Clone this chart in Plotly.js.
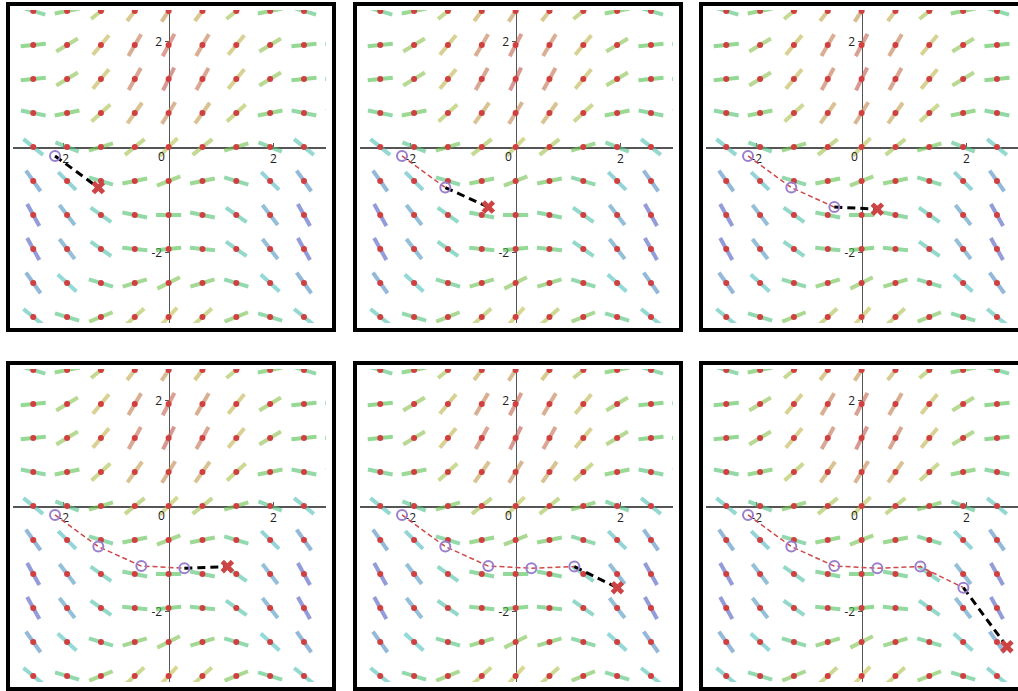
<!DOCTYPE html>
<html>
<head>
<meta charset="utf-8">
<script src="https://cdn.plot.ly/plotly-3.0.1.min.js"></script>
<style>
html, body { margin: 0; padding: 0; overflow: hidden; background: #fff; width: 1018px; height: 691px; }
.panel { position: absolute; width: 322px; height: 322px; border: 4px solid #000; background: #fff; }
</style>
</head>
<body>
<div id="p0" class="panel"></div>
<div id="p1" class="panel"></div>
<div id="p2" class="panel"></div>
<div id="p3" class="panel"></div>
<div id="p4" class="panel"></div>
<div id="p5" class="panel"></div>
<script>
// Grid of the slope field (x columns, y rows)
const GRID_X = [-3.225, -2.58, -1.935, -1.29, -0.645, 0, 0.645, 1.29, 1.935, 2.58, 3.225];
const GRID_Y = [2.58, 1.935, 1.29, 0.645, 0, -0.645, -1.29, -1.935, -2.58, -3.225];
// Slopes read from the segments, one row per GRID_Y value
const SLOPE_ROW_0 = [-0.5, -0.3, 0.2, 0.8, 1.3, 1.5, 1.3, 0.8, 0.2, -0.3, -0.5];
const SLOPE_ROW_1 = [-0.1, 0.1, 0.6, 1.2, 1.7, 1.9, 1.7, 1.2, 0.6, 0.1, -0.1];
const SLOPE_ROW_2 = [0.0, 0.1, 0.6, 1.2, 1.8, 2.0, 1.8, 1.2, 0.6, 0.1, 0.0];
const SLOPE_ROW_3 = [-0.4, -0.2, 0.2, 0.9, 1.4, 1.6, 1.4, 0.9, 0.2, -0.2, -0.4];
const SLOPE_ROW_4 = [-1.0, -0.8, -0.4, 0.3, 0.8, 1.0, 0.8, 0.3, -0.4, -0.8, -1.0];
const SLOPE_ROW_5 = [-1.6, -1.4, -1.0, -0.3, 0.2, 0.4, 0.2, -0.3, -1.0, -1.4, -1.6];
const SLOPE_ROW_6 = [-2.0, -1.8, -1.3, -0.7, -0.2, 0.0, -0.2, -0.7, -1.3, -1.8, -2.0];
const SLOPE_ROW_7 = [-1.9, -1.8, -1.3, -0.7, -0.1, 0.1, -0.1, -0.7, -1.3, -1.8, -1.9];
const SLOPE_ROW_8 = [-1.5, -1.4, -0.9, -0.3, 0.3, 0.5, 0.3, -0.3, -0.9, -1.4, -1.5];
const SLOPE_ROW_9 = [-0.9, -0.8, -0.3, 0.4, 0.9, 1.1, 0.9, 0.4, -0.3, -0.8, -0.9];
const SLOPES = [SLOPE_ROW_0, SLOPE_ROW_1, SLOPE_ROW_2, SLOPE_ROW_3, SLOPE_ROW_4,
                SLOPE_ROW_5, SLOPE_ROW_6, SLOPE_ROW_7, SLOPE_ROW_8, SLOPE_ROW_9];
// Euler steps
const EULER_X = [-2.165, -1.34, -0.52, 0.30, 1.12, 1.94, 2.77];
const EULER_Y = [-0.17, -0.77, -1.14, -1.18, -1.15, -1.55, -2.67];
// Axes
const X_RANGE = [-2.966, 3.0];
const Y_RANGE = [-3.34, 2.60];
const TICK_VALS = [-2, 2];
const TICK_TEXT = ['-2', '2'];
const ORIGIN_LABEL = '0';

const HALF = 0.24;
const COL_LEFT = [6, 353, 699];
const ROW_TOP = [2, 361];

function slopeColor(m) {
  let h = 125 - 60 * m;
  h = Math.max(0, Math.min(260, h));
  return 'hsla(' + h.toFixed(0) + ',48%,54%,0.62)';
}

function fieldTraces() {
  const groups = {};
  const order = [];
  for (let r = 0; r < GRID_Y.length; r++) {
    for (let c = 0; c < GRID_X.length; c++) {
      const m = SLOPES[r][c];
      const key = m.toFixed(2);
      if (!groups[key]) { groups[key] = {x: [], y: [], m: m}; order.push(key); }
      const dx = HALF / Math.sqrt(1 + m * m);
      const g = groups[key];
      g.x.push(GRID_X[c] - dx, GRID_X[c] + dx, null);
      g.y.push(GRID_Y[r] - m * dx, GRID_Y[r] + m * dx, null);
    }
  }
  return order.map(k => ({
    type: 'scatter', mode: 'lines', x: groups[k].x, y: groups[k].y,
    line: {color: slopeColor(groups[k].m), width: 4}, hoverinfo: 'skip'
  }));
}

function dotTrace() {
  const x = [], y = [];
  for (let r = 0; r < GRID_Y.length; r++)
    for (let c = 0; c < GRID_X.length; c++) { x.push(GRID_X[c]); y.push(GRID_Y[r]); }
  return {type: 'scatter', mode: 'markers', x: x, y: y,
          marker: {color: '#d04040', size: 6}, hoverinfo: 'skip'};
}

function panel(k) {
  const traces = fieldTraces();
  traces.push(dotTrace());
  const hx = EULER_X.slice(0, k), hy = EULER_Y.slice(0, k);
  if (k >= 2) {
    traces.push({type: 'scatter', mode: 'lines', x: hx, y: hy,
      line: {color: '#d04848', width: 1.5, dash: '5px,3px'}});
  }
  traces.push({type: 'scatter', mode: 'lines', x: [EULER_X[k-1], EULER_X[k]], y: [EULER_Y[k-1], EULER_Y[k]],
    line: {color: '#000', width: 3, dash: '8px,5px'}});
  traces.push({type: 'scatter', mode: 'markers', x: hx, y: hy,
    marker: {symbol: 'circle-open', size: 10, color: '#9a7fcf', line: {width: 2, color: '#9a7fcf'}}});
  traces.push({type: 'scatter', mode: 'markers', x: [EULER_X[k]], y: [EULER_Y[k]],
    marker: {symbol: 'x', size: 12, color: '#cc4444', line: {width: 0}}});

  const axisCommon = {
    showgrid: false, zeroline: false, showline: true, linecolor: '#555', linewidth: 1.5,
    anchor: 'free', tickvals: TICK_VALS, ticktext: TICK_TEXT, ticklen: 4, tickcolor: '#555',
    tickwidth: 1.5, tickfont: {size: 12, color: '#222'}, layer: 'below traces', fixedrange: true
  };
  const layout = {
    width: 322, height: 322,
    margin: {l: 3, r: 6, t: 4, b: 5, pad: 0},
    showlegend: false,
    paper_bgcolor: '#fff', plot_bgcolor: '#fff',
    xaxis: Object.assign({}, axisCommon, {range: X_RANGE, ticks: 'inside',
      position: (0 - Y_RANGE[0]) / (Y_RANGE[1] - Y_RANGE[0])}),
    yaxis: Object.assign({}, axisCommon, {range: Y_RANGE, ticks: 'outside',
      position: (0 - X_RANGE[0]) / (X_RANGE[1] - X_RANGE[0])}),
    annotations: [{x: 0, y: 0, xref: 'x', yref: 'y', text: ORIGIN_LABEL, showarrow: false,
      xanchor: 'right', yanchor: 'middle', xshift: -2, yshift: -9,
      font: {size: 12, color: '#222'}}]
  };
  const div = document.getElementById('p' + (k - 1));
  const col = (k - 1) % 3, row = Math.floor((k - 1) / 3);
  div.style.left = COL_LEFT[col] + 'px';
  div.style.top = ROW_TOP[row] + 'px';
  Plotly.newPlot(div, traces, layout, {staticPlot: true, displayModeBar: false});
}

for (let k = 1; k <= 6; k++) panel(k);
</script>
</body>
</html>
